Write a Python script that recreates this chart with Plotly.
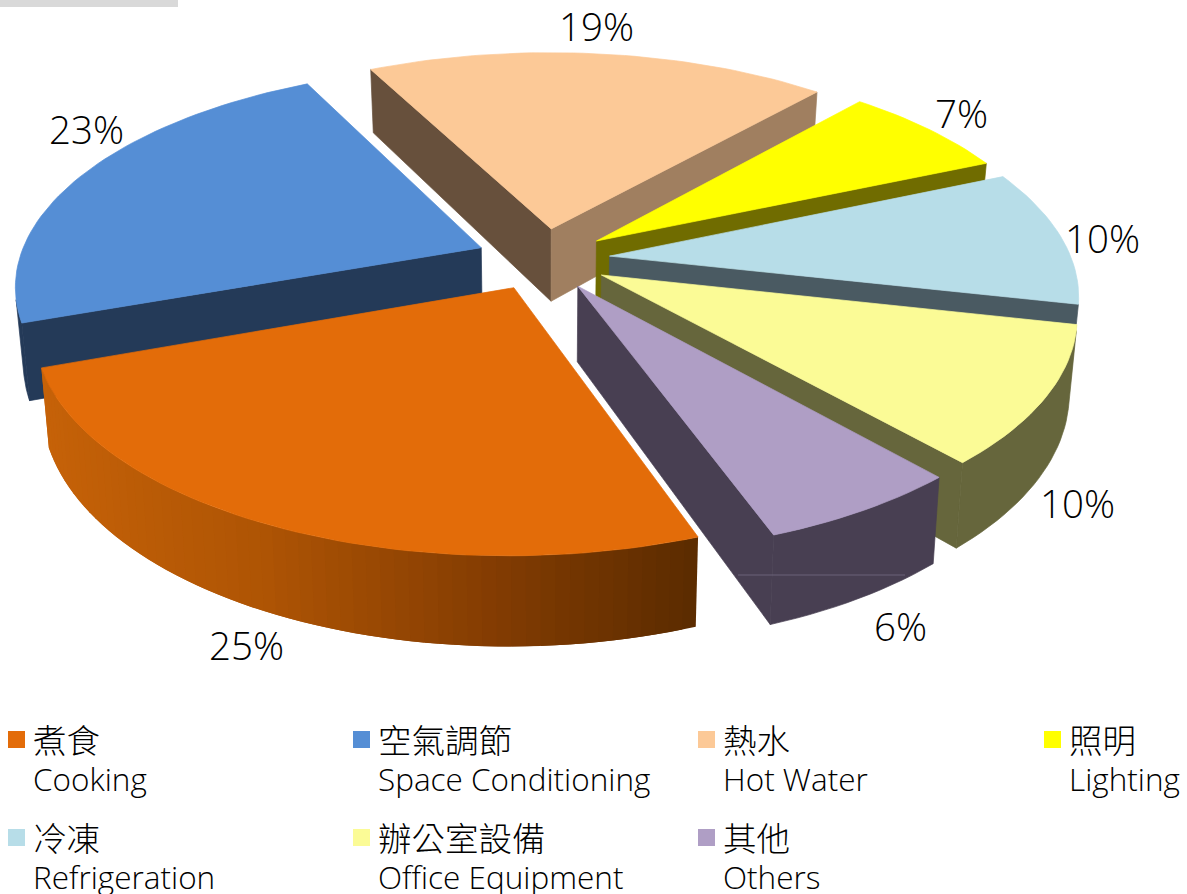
import math
import plotly.graph_objects as go

# ---- data ----
names_zh = ["煮食", "空氣調節", "熱水", "照明", "冷凍", "辦公室設備", "其他"]
names_en = ["Cooking", "Space Conditioning", "Hot Water", "Lighting",
            "Refrigeration", "Office Equipment", "Others"]
values = [25, 23, 19, 7, 10, 10, 6]

# ---- styles ----
top_colors = ["#E36C09", "#558ED5", "#FCC997", "#FFFF00", "#B7DDE8", "#FBFB96", "#AF9EC5"]
wall_colors = [None, "#243A58", "#A07F60", "#706C00", "#4A5A62", "#66663C", "#483F52"]
start_face_colors = ["#C05E08", "#243A58", "#67503C", "#706C00", "#4A5A62", "#66663C", "#483F52"]
end_face_colors = ["#5C2C00", "#243A58", "#A07F60", "#706C00", "#4A5A62", "#66663C", "#483F52"]
draw_order = [2, 1, 3, 4, 5, 6, 0]          # back to front

# ---- pie geometry / camera ----
START_DEG = 160.2   # clockwise from north, where Cooking begins
CX, CY = 543.0, 259.0
A, B = 462.0, 214.0
K = 0.163
EXPLODE = 0.145
DEPTH = 74.0
BOTTOM_SCALE = 0.985
STEP_DEG = 1.5

FONT_EN = "Open Sans"
FONT_ZH = "Noto Sans CJK TC"

# label placement (pixel space of the page)
pct_xy = [(246, 645), (86, 129), (596, 26), (961, 113), (1102, 238), (1077, 503), (900, 626)]
legend_cols = [8, 353, 698, 1044]
legend_rows = [740, 838]
LEGEND_LINE = 40


def project(x, south, bottom=False):
    w = 1.0 / (1.0 - K * south)
    u = CX + A * x * w
    v = CY + B * south * w
    if bottom:
        u = CX + (u - CX) * BOTTOM_SCALE
        v += DEPTH * w
    return u, v


def lerp_color(c1, c2, t):
    a = [int(c1[i:i + 2], 16) for i in (1, 3, 5)]
    b = [int(c2[i:i + 2], 16) for i in (1, 3, 5)]
    return "#%02X%02X%02X" % tuple(round(p + (q - p) * t) for p, q in zip(a, b))


def polygon(points, color, width=0.7):
    xs = [p[0] for p in points] + [points[0][0]]
    ys = [p[1] for p in points] + [points[0][1]]
    return go.Scatter(x=xs, y=ys, mode="lines", fill="toself", fillcolor=color,
                      line=dict(color=color, width=width), hoverinfo="skip", showlegend=False)


def signed_area(q):
    return sum(q[i][0] * q[(i + 1) % len(q)][1] - q[(i + 1) % len(q)][0] * q[i][1]
               for i in range(len(q)))


def quad(a, b):
    return [project(*a), project(*b), project(*b, bottom=True), project(*a, bottom=True)]


total = sum(values)
starts, running = [], START_DEG
for v in values:
    starts.append(running)
    running += v / total * 360.0

fig = go.Figure()
orange_stops = [(0.0, "#C66208"), (0.35, "#AE5404"), (0.7, "#833C02"), (1.0, "#5C2C00")]


def orange_shade(t):
    for (t0, c0), (t1, c1) in zip(orange_stops, orange_stops[1:]):
        if t <= t1:
            return lerp_color(c0, c1, (t - t0) / (t1 - t0))
    return orange_stops[-1][1]


for i in draw_order:
    th1 = starts[i]
    sweep = values[i] / total * 360.0
    mid = math.radians(th1 + sweep / 2)
    ox, oy = EXPLODE * math.sin(mid), -EXPLODE * math.cos(mid)
    n = max(2, int(sweep / STEP_DEG))
    rim = []
    for k in range(n + 1):
        th = math.radians(th1 + sweep * k / n)
        rim.append((ox + math.sin(th), oy - math.cos(th)))
    apex = (ox, oy)

    # radial cut faces, culled when facing away from the camera
    q = quad(apex, rim[0])
    if signed_area(q) < 0:
        fig.add_trace(polygon(q, start_face_colors[i]))
    q = quad(rim[-1], apex)
    if signed_area(q) < 0:
        fig.add_trace(polygon(q, end_face_colors[i]))

    # outer wall: only the strips that face the camera
    visible = [k for k in range(n) if signed_area(quad(rim[k], rim[k + 1])) < 0]
    if wall_colors[i] is None:
        # Cooking's wall darkens from left to right; strips overlap to hide seams
        for k in visible:
            end = min(k + 2, n)
            q = quad(rim[k], rim[end])
            t = (project(*rim[k])[0] - 40) / (698 - 40)
            fig.add_trace(polygon(q, orange_shade(min(max(t, 0), 1)), width=0))
    elif visible:
        idx = visible + [visible[-1] + 1]
        pts = [project(*rim[k]) for k in idx] + [project(*rim[k], bottom=True) for k in reversed(idx)]
        fig.add_trace(polygon(pts, wall_colors[i]))

    # top
    fig.add_trace(polygon([project(*apex)] + [project(*p) for p in rim], top_colors[i]))

annotations = []
for v, (x, y) in zip(values, pct_xy):
    annotations.append(dict(x=x, y=y, text=f"{v}%", showarrow=False, xref="x", yref="y",
                            xanchor="center", yanchor="middle",
                            font=dict(family=FONT_EN, size=38.5, color="#000000", weight=300)))

shapes = [dict(type="rect", x0=0, x1=178, y0=0, y1=7, xref="x", yref="y",
               fillcolor="#D9D9D9", line=dict(width=0), layer="below"),
          # faint rendering seam across the front of the Others wall
          dict(type="line", x0=738, x1=905, y0=575, y1=575, xref="x", yref="y",
               line=dict(color="#6A6278", width=1))]
for i, (zh, en) in enumerate(zip(names_zh, names_en)):
    x = legend_cols[i % 4]
    y = legend_rows[i // 4]
    shapes.append(dict(type="rect", x0=x, x1=x + 17, y0=y - 9, y1=y + 8, xref="x", yref="y",
                       fillcolor=top_colors[i], line=dict(width=0)))
    annotations.append(dict(x=x + 23, y=y - 2, text=zh, showarrow=False, xref="x", yref="y",
                            xanchor="left", yanchor="middle",
                            font=dict(family=FONT_ZH, size=33.5, color="#000000", weight=300)))
    annotations.append(dict(x=x + 23, y=y + LEGEND_LINE - 2, text=en, showarrow=False, xref="x", yref="y",
                            xanchor="left", yanchor="middle",
                            font=dict(family=FONT_EN, size=31.5, color="#000000", weight=300)))

fig.update_layout(
    width=1187, height=894, margin=dict(l=0, r=0, t=0, b=0),
    paper_bgcolor="#FFFFFF", plot_bgcolor="#FFFFFF", showlegend=False,
    xaxis=dict(range=[0, 1187], visible=False, fixedrange=True),
    yaxis=dict(range=[894, 0], visible=False, fixedrange=True),
    shapes=shapes, annotations=annotations,
)
fig.write_html("out.html", config={"displayModeBar": False},
               post_script="document.body.style.margin='0';document.body.style.overflow='hidden';")
